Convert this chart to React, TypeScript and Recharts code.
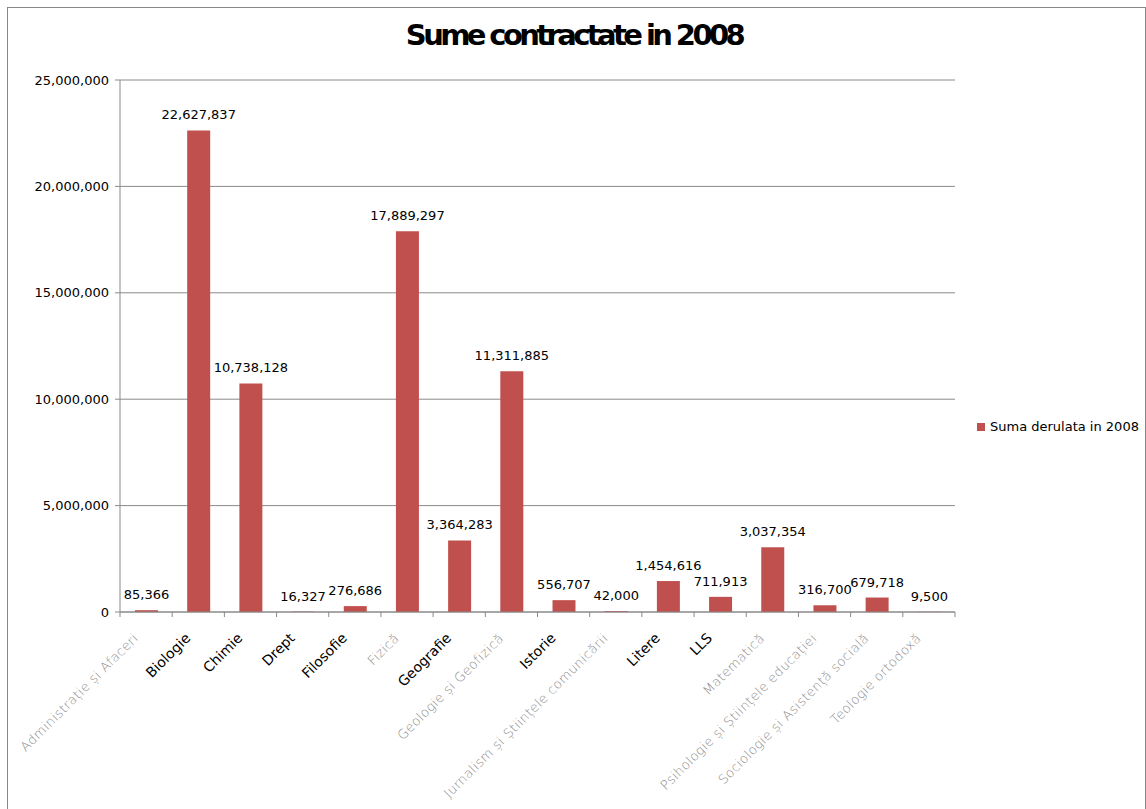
import React from "react";
import { BarChart, Bar, XAxis, YAxis, CartesianGrid, LabelList } from "recharts";

const categories = [
  "Administrație și Afaceri",
  "Biologie",
  "Chimie",
  "Drept",
  "Filosofie",
  "Fizică",
  "Geografie",
  "Geologie și Geofizică",
  "Istorie",
  "Jurnalism și Științele comunicării",
  "Litere",
  "LLS",
  "Matematică",
  "Psihologie și Științele educației",
  "Sociologie și Asistență socială",
  "Teologie ortodoxă",
];

const sumaDerulata2008 = [
  85366, 22627837, 10738128, 16327, 276686, 17889297, 3364283, 11311885,
  556707, 42000, 1454616, 711913, 3037354, 316700, 679718, 9500,
];

const yTicks = [0, 5000000, 10000000, 15000000, 20000000, 25000000];

const chartTitle = "Sume contractate in 2008";
const seriesName = "Suma derulata in 2008";

const data = categories.map((c, i) => ({ name: c, value: sumaDerulata2008[i] }));

const FONT = "'DejaVu Sans', Verdana, sans-serif";
const GRID = "#8a8a8a";
const BAR = "#C0504D";
const fmt = (v: number) => v.toLocaleString("en-US");

const XTick = (props: any) => {
  const { x, y, payload, index } = props;
  const label: string = payload.value;
  const light = /[^\x00-\x7F]/.test(label);
  const half = payload.offset ?? 0;
  const axisY = y - 7;
  return (
    <g>
      <line x1={x - half} x2={x - half} y1={axisY} y2={axisY + 5} stroke={GRID} />
      {index === categories.length - 1 && (
        <line x1={x + half} x2={x + half} y1={axisY} y2={axisY + 5} stroke={GRID} />
      )}
      <g transform={`translate(${x - 7},${y + 20}) rotate(-45)`}>
        <text
          x={0}
          y={0}
          textAnchor="end"
          fontSize={light ? 13 : 14}
          fontFamily={FONT}
          fill={light ? "#8c8c8c" : "#000"}
          fontWeight={light ? 300 : 400}
          letterSpacing={light ? 0.4 : 0}
        >
          {label}
        </text>
      </g>
    </g>
  );
};

export default function App() {
  return (
    <div style={{ position: "absolute", left: 0, top: 0, width: 1146, height: 809, overflow: "hidden", background: "#fff" }}>
      <div
        style={{
          position: "absolute",
          left: 7,
          top: 7,
          width: 1137,
          height: 820,
          border: "1px solid #878787",
          background: "#fff",
        }}
      >
        <BarChart
          width={1137}
          height={801}
          data={data}
          margin={{ top: 72, right: 190, bottom: 7, left: 0 }}
          barSize={23}
        >
          <CartesianGrid vertical={false} stroke={GRID} />
          <XAxis
            dataKey="name"
            interval={0}
            height={190}
            axisLine={{ stroke: GRID }}
            tickLine={false}
            tickSize={5}
            tickMargin={2}
            tick={<XTick />}
          />
          <YAxis
            width={112}
            domain={[0, 25000000]}
            ticks={yTicks}
            tickFormatter={fmt}
            axisLine={{ stroke: GRID }}
            tickLine={{ stroke: GRID }}
            tickSize={5}
            tickMargin={6}
            tick={{ fontSize: 13, fontFamily: FONT, fill: "#000" }}
          />
          <Bar dataKey="value" name={seriesName} fill={BAR} isAnimationActive={false}>
            <LabelList
              dataKey="value"
              position="top"
              offset={11}
              formatter={(v: any) => fmt(Number(v))}
              style={{ fontSize: 13, fontFamily: FONT, fill: "#000" }}
            />
          </Bar>
        </BarChart>
        <div
          style={{
            position: "absolute",
            left: 969,
            top: 411,
            display: "flex",
            alignItems: "center",
            fontFamily: FONT,
            fontSize: 13,
            color: "#000",
            whiteSpace: "nowrap",
          }}
        >
          <span style={{ display: "inline-block", width: 8, height: 8, background: BAR, marginRight: 5 }} />
          <span>{seriesName}</span>
        </div>
      </div>
      <svg width={1146} height={809} style={{ position: "absolute", left: 0, top: 0, pointerEvents: "none" }}>
        <text
          x={574}
          y={45}
          textAnchor="middle"
          fontFamily={FONT}
          fontWeight="bold"
          fontSize={29}
          letterSpacing={-3.6}
          fill="#000"
        >
          {chartTitle}
        </text>
      </svg>
    </div>
  );
}
